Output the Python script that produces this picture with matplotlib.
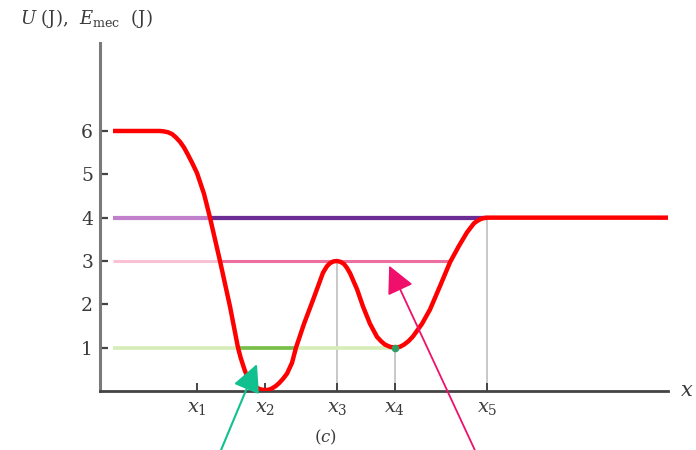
import matplotlib.pyplot as plt

plt.rcParams['font.family'] = 'DejaVu Serif'
plt.rcParams['mathtext.fontset'] = 'dejavuserif'

# potential energy curve U(x)
curve_x = [1.3, 4.0, 6.0, 6.4, 6.8, 7.2, 7.6, 8.0, 8.4, 8.8, 9.2, 9.7, 10.4,
           11.0, 12.0, 13.0, 13.8, 14.05, 14.3, 14.5, 14.7, 15.0, 15.3,
           15.65, 16.0, 16.5, 16.9, 17.2, 17.55, 17.9, 18.3, 18.7, 19.2,
           19.6, 20.4, 21.3, 22.3, 22.7, 23.0, 23.35, 23.7, 24.05, 24.4,
           24.7, 25.0, 25.7, 26.3, 27.0, 27.7, 28.1, 28.5, 29.0, 29.5, 30.0,
           30.4, 30.85, 31.3, 32.2, 33.0, 34.0, 35.0, 35.9, 36.7, 37.1, 37.4,
           37.7, 38.0, 38.35, 38.7, 45.0, 57.7]
curve_u = [6.0, 6.0, 6.0, 5.99, 5.97, 5.93, 5.85, 5.75, 5.62, 5.45, 5.27,
           5.03, 4.55, 4.0, 3.0, 1.95, 1.0, 0.78, 0.6, 0.46, 0.35, 0.24, 0.15,
           0.08, 0.04, 0.02, 0.03, 0.06, 0.11, 0.18, 0.28, 0.4, 0.65,
           1.0, 1.55, 2.1, 2.73, 2.88, 2.95, 2.99, 3.0, 2.98, 2.93,
           2.84, 2.72, 2.35, 1.95, 1.55, 1.25, 1.15, 1.07, 1.02, 1.0, 1.02,
           1.07, 1.15, 1.26, 1.55, 1.88, 2.42, 2.97, 3.35, 3.66, 3.78, 3.87,
           3.92, 3.96, 3.99, 4.0, 4.0, 4.0]

tick_x = [9.7, 16.5, 23.7, 29.5, 38.7]
tick_names = ['$x_1$', '$x_2$', '$x_3$', '$x_4$', '$x_5$']
y_ticks = [1, 2, 3, 4, 5, 6]

# mechanical energy levels: value, start, end, highlighted part, colours
levels = [4, 3, 1]
level_start = [1.3, 1.3, 1.3]
level_end = [38.7, 35.0, 29.5]
level_hi_start = [11.0, 12.0, 13.8]
level_hi_end = [38.7, 35.0, 19.6]
level_light = ['#c080cc', '#f9c2d4', '#d6edb8']
level_dark = ['#6b2c94', '#ec6f9f', '#78bf4a']
level_lw = [3.0, 2.2, 2.6]

# grey drop lines at x3, x4, x5
drop_x = [23.7, 29.5, 38.7]
drop_top = [3, 1, 4]

# arrows: tail -> tip
green_tail, green_tip = (12.0, -1.42), (15.8, 0.68)
pink_tail, pink_tip = (37.6, -1.42), (28.8, 2.95)

fig = plt.figure(figsize=(6.96, 4.5), dpi=100)
ax = fig.add_axes([100 / 696, 59 / 450, 568 / 696, 348 / 450])
ax.set_xlim(0, 56.8)
ax.set_ylim(0, 8.03)

for xd, top in zip(drop_x, drop_top):
    ax.plot([xd, xd], [0, top], color='#c8c8c8', lw=1.4, zorder=1)

for i in range(len(levels)):
    ax.plot([level_start[i], level_end[i]], [levels[i], levels[i]],
            color=level_light[i], lw=level_lw[i], solid_capstyle='butt', zorder=2)
    ax.plot([level_hi_start[i], level_hi_end[i]], [levels[i], levels[i]],
            color=level_dark[i], lw=level_lw[i], solid_capstyle='butt', zorder=2)

ax.plot(curve_x, curve_u, color='#ff0000', lw=3.2, solid_capstyle='butt',
        solid_joinstyle='round', zorder=3)
ax.plot([29.5], [1], 'o', color='#2e9e62', ms=4.5, zorder=4)

ax.annotate('', xy=green_tip, xytext=green_tail, annotation_clip=False,
            arrowprops=dict(arrowstyle='-|>,head_length=1.7,head_width=0.85',
                            color='#11c08f', lw=1.5))
ax.annotate('', xy=pink_tip, xytext=pink_tail, annotation_clip=False,
            arrowprops=dict(arrowstyle='-|>,head_length=1.7,head_width=0.85',
                            color='#f0106c', lw=1.3))

ax.spines['top'].set_visible(False)
ax.spines['right'].set_visible(False)
ax.spines['left'].set_color('#7a7a7a')
ax.spines['left'].set_linewidth(2.2)
ax.spines['bottom'].set_color('#444444')
ax.spines['bottom'].set_linewidth(2.0)

ax.set_yticks(y_ticks)
ax.set_yticklabels([str(v) for v in y_ticks])
ax.set_xticks(tick_x)
ax.set_xticklabels(tick_names)
ax.tick_params(axis='y', direction='in', length=6, width=1.6, color='#444444',
               pad=5, labelsize=13.5, labelcolor='#3a3a3a')
ax.tick_params(axis='x', direction='in', length=6, width=1.4, color='#444444',
               pad=6, labelsize=14, labelcolor='#3a3a3a')

fig.text(20 / 696, 1 - 18 / 450, r'$U$ (J),  $E_{\rm mec}$  (J)', fontsize=13,
         color='#3a3a3a', va='center', ha='left')
fig.text(680 / 696, 1 - 391 / 450, '$x$', fontsize=15, color='#3a3a3a',
         va='center', ha='left')
fig.text(325 / 696, 1 - 437 / 450, '($c$)', fontsize=12, color='#3a3a3a',
         va='center', ha='center')

fig.savefig('out.png', dpi=100)
